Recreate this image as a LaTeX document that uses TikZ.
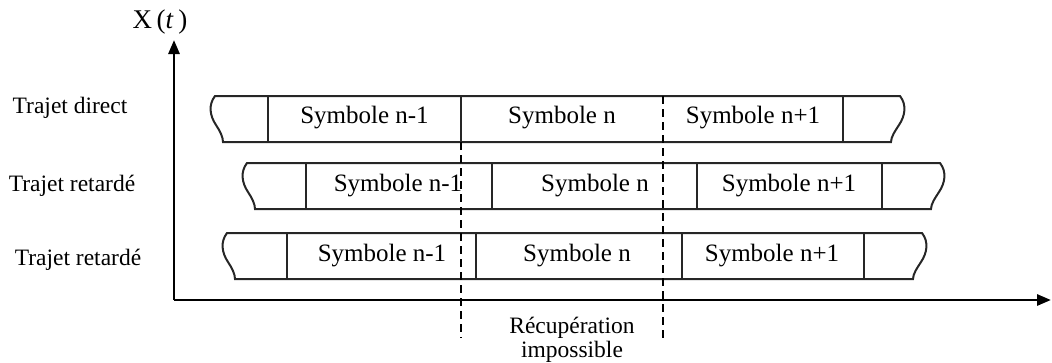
\documentclass[tikz,border=0pt]{standalone}
\usepackage{fontspec}
\setmainfont{Liberation Serif}
\usetikzlibrary{arrows.meta}
\newcommand\symrow[3]{%
 \begin{scope}[shift={(0,#1)}]
 \draw[boxline] (#2,0) -- (#3,0)
  .. controls ({#3+7},9) and ({#3+5},20) .. ({#3-1},29)
  .. controls ({#3-5},35) and ({#3-9},41) .. ({#3-9},46)
  -- ({#2+8},46)
  .. controls ({#2+8},41) and ({#2+5},35) .. ({#2+1},29)
  .. controls ({#2-5},20) and ({#2-7},9) .. (#2,0) -- cycle;
 \end{scope}}
\begin{document}
\begin{tikzpicture}[x=1pt,y=-1pt,
 boxline/.style={line width=2pt, black!85, line join=miter},
 axisline/.style={line width=2.8pt, -{Triangle[length=14pt,width=11pt]}},
 cutline/.style={line width=2.8pt, dash pattern=on 8pt off 5pt},
 symtext/.style={font=\fontsize{25}{30}\selectfont, inner sep=0pt},
 rowlabel/.style={font=\fontsize{23.5}{28}\selectfont, inner sep=0pt},
]
\useasboundingbox (0,0) rectangle (1052,362);

% axes
\coordinate (O) at (174,300);
\coordinate (ytip) at (174,40);
\coordinate (xtip) at (1051,300);
\draw[axisline] (O) -- (ytip);
\draw[axisline] (O) -- (xtip);
\node[font=\fontsize{27}{32}\selectfont, inner sep=0pt] (ylab) at (160,22) {X\,(\textit{t}\,)};

% row 1
\symrow{96}{215}{900}
\foreach \x in {268,461,843} \draw[boxline] (\x,96) -- (\x,142);
\node[symtext] (r1a) at (364.5,118) {Symbole n-1};
\node[symtext] (r1b) at (562,118) {Symbole n};
\node[symtext] (r1c) at (753,118) {Symbole n+1};

% row 2
\symrow{163}{247}{940}
\foreach \x in {306,492,697,882} \draw[boxline] (\x,163) -- (\x,209);
\node[symtext] (r2a) at (398,186) {Symbole n-1};
\node[symtext] (r2b) at (595,186) {Symbole n};
\node[symtext] (r2c) at (789,186) {Symbole n+1};

% row 3
\symrow{233}{227}{922}
\foreach \x in {287,476,682,864} \draw[boxline] (\x,233) -- (\x,279);
\node[symtext] (r3a) at (382,256) {Symbole n-1};
\node[symtext] (r3b) at (577,256) {Symbole n};
\node[symtext] (r3c) at (772,256) {Symbole n+1};

% row labels
\node[rowlabel] (lab1) at (70,108) {Trajet direct};
\node[rowlabel] (lab2) at (72,186) {Trajet retardé};
\node[rowlabel] (lab3) at (78,260) {Trajet retardé};

% cut lines
\coordinate (c1top) at (461,142);
\coordinate (c1bot) at (461,338);
\coordinate (c2top) at (663,96);
\coordinate (c2bot) at (663,338);
\draw[cutline] (c1top) -- (c1bot);
\draw[cutline] (c2top) -- (c2bot);

\node[rowlabel, align=center, font=\fontsize{23.5}{24}\selectfont] (rec) at (572,340) {Récupération\\impossible};
\end{tikzpicture}
\end{document}
